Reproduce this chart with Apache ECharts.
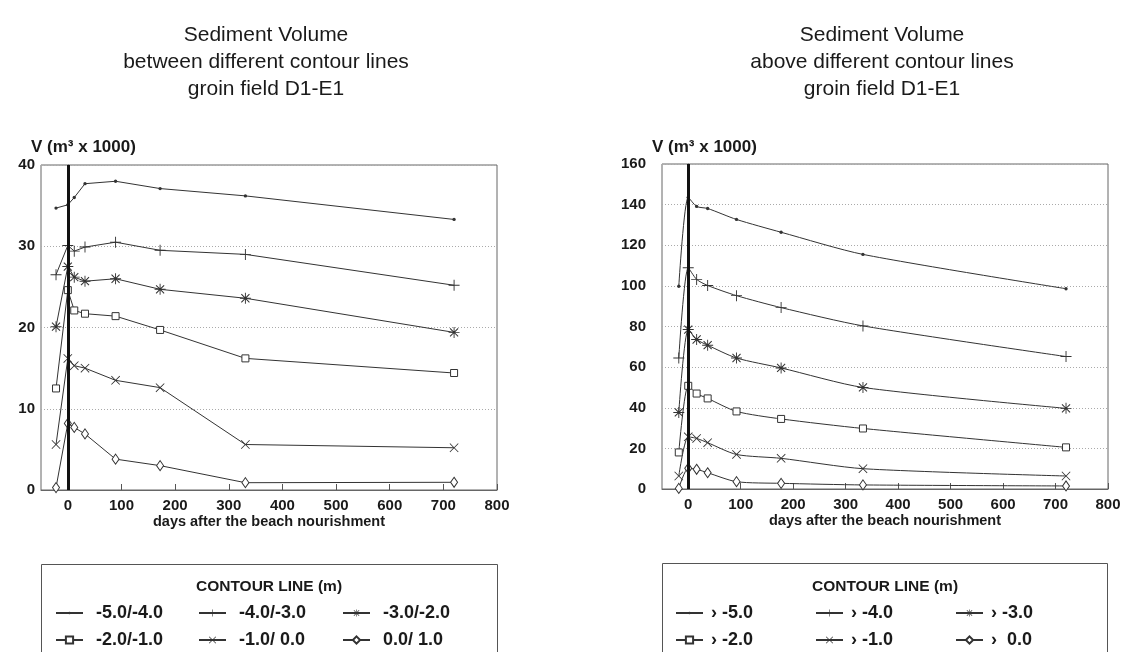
<!DOCTYPE html>
<html>
<head>
<meta charset="utf-8">
<script src="https://cdn.jsdelivr.net/npm/echarts@6/dist/echarts.min.js"></script>
<style>
html,body{margin:0;padding:0;background:#fff;}
#c{width:1127px;height:652px;}
</style>
</head>
<body>
<div id="c"></div>
<script>
// ---- data ----
const daysL = [-22, 0, 12, 32, 89, 172, 331, 720];
const daysR = [-18, 0, 16, 37, 92, 177, 333, 720];
const namesL = ['-5.0/-4.0', '-4.0/-3.0', '-3.0/-2.0', '-2.0/-1.0', '-1.0/ 0.0', '0.0/ 1.0'];
const namesR = ['\u203A -5.0', '\u203A -4.0', '\u203A -3.0', '\u203A -2.0', '\u203A -1.0', '\u203A  0.0'];
const L1 = [34.7, 35.1, 36.0, 37.7, 38.0, 37.1, 36.2, 33.3];
const L2 = [26.5, 30.1, 29.4, 29.9, 30.5, 29.5, 29.0, 25.2];
const L3 = [20.1, 27.5, 26.2, 25.7, 26.0, 24.7, 23.6, 19.4];
const L4 = [12.5, 24.6, 22.1, 21.7, 21.4, 19.7, 16.2, 14.4];
const L5 = [5.6, 16.2, 15.3, 15.0, 13.5, 12.6, 5.6, 5.2];
const L6 = [0.3, 8.2, 7.7, 6.9, 3.8, 3.0, 0.9, 0.95];
const R1 = [99.8, 143.6, 139.1, 138.1, 132.7, 126.4, 115.5, 98.6];
const R2 = [64.5, 108.9, 103.2, 100.2, 95.2, 89.3, 80.3, 65.2];
const R3 = [37.7, 78.5, 73.6, 70.8, 64.5, 59.6, 50.0, 39.7];
const R4 = [18.0, 50.8, 47.0, 44.6, 38.2, 34.5, 29.8, 20.5];
const R5 = [6.4, 25.7, 24.9, 22.8, 17.0, 15.1, 10.0, 6.4];
const R6 = [0.3, 10.2, 9.7, 8.0, 3.6, 2.8, 2.0, 1.5];
const xTicks = [0, 100, 200, 300, 400, 500, 600, 700, 800];
const titleL = 'Sediment Volume\nbetween different contour lines\ngroin field D1-E1';
const titleR = 'Sediment Volume\nabove different contour lines\ngroin field D1-E1';
const yName = 'V (m\u00B3 x 1000)';
const xName = 'days after the beach nourishment';
const legendTitle = 'CONTOUR LINE (m)';

// ---- styling ----
const FONT = 'Liberation Sans';
const INK = '#1a1a1a';
const LINE = '#333';
const DOT = 'path://M0,0M12,12M6,4A2,2,0,1,1,6,8A2,2,0,1,1,6,4Z';
const PLUS = 'path://M5.5,0H6.5V5.5H12V6.5H6.5V12H5.5V6.5H0V5.5H5.5Z';
const CROSS = 'path://M0,0.8L0.8,0L6,5.2L11.2,0L12,0.8L6.8,6L12,11.2L11.2,12L6,6.8L0.8,12L0,11.2L5.2,6Z';
const STAR = 'path://M5.5,0H6.5V5.5H12V6.5H6.5V12H5.5V6.5H0V5.5H5.5ZM1.2,2L2,1.2L6,5.2L10,1.2L10.8,2L6.8,6L10.8,10L10,10.8L6,6.8L2,10.8L1.2,10L5.2,6Z';
const markers = [
  {symbol: DOT, size: 10, hollow: false},
  {symbol: PLUS, size: 11, hollow: false},
  {symbol: STAR, size: 11, hollow: false},
  {symbol: 'rect', size: 7, hollow: true},
  {symbol: CROSS, size: 9, hollow: false},
  {symbol: 'diamond', size: [7, 10], hollow: true}
];

function mkSeries(names, days, vals, axisIdx, smooth) {
  return vals.map((v, i) => {
    const m = markers[i];
    const s = {
      name: names[i], type: 'line',
      xAxisIndex: axisIdx, yAxisIndex: axisIdx,
      data: days.map((d, j) => [d, v[j]]),
      symbol: m.symbol, symbolSize: m.size, showAllSymbol: true,
      smooth: smooth,
      lineStyle: {color: LINE, width: 1},
      itemStyle: m.hollow ? {color: '#fff', borderColor: LINE, borderWidth: 1} : {color: LINE, borderWidth: 0},
      emphasis: {disabled: true},
      animation: false
    };
    if (i === 0) {
      s.markLine = {
        silent: true, symbol: 'none', animation: false,
        label: {show: false},
        lineStyle: {color: '#111', width: 3, type: 'solid'},
        data: [{xAxis: 0}]
      };
    }
    return s;
  });
}

function xAxisCfg(idx) {
  return {
    gridIndex: idx, type: 'value', min: -50, max: 800,
    name: xName, nameLocation: 'middle', nameGap: 24,
    nameTextStyle: {fontFamily: FONT, fontWeight: 'bold', fontSize: 14.5, color: INK},
    axisLine: {show: true, lineStyle: {color: '#666'}},
    axisTick: {show: true, inside: true, length: 6, customValues: xTicks, lineStyle: {color: '#555'}},
    axisLabel: {customValues: xTicks, fontFamily: FONT, fontWeight: 'bold', fontSize: 15, color: INK, margin: 8},
    splitLine: {show: false}
  };
}
function yAxisCfg(idx, max, interval, margin) {
  return {
    gridIndex: idx, type: 'value', min: 0, max: max, interval: interval,
    axisLine: {show: true, lineStyle: {color: '#666'}},
    axisTick: {show: false},
    axisLabel: {fontFamily: FONT, fontWeight: 'bold', fontSize: 15, color: INK, margin: margin},
    splitLine: {show: true, lineStyle: {color: '#aaa', type: [1, 2], width: 1}}
  };
}
function legendCol(names, col, left, pad) {
  return {
    data: [names[col], names[col + 3]], left: left, top: 604, orient: 'vertical',
    itemWidth: 27, itemHeight: 9, itemGap: 9, padding: 0,
    selectedMode: false,
    textStyle: {fontFamily: FONT, fontWeight: 'bold', fontSize: 18, lineHeight: 18, color: INK, padding: [0, 0, 0, pad]}
  };
}

const titleStyle = {fontFamily: FONT, fontWeight: 'normal', fontSize: 21, color: INK, lineHeight: 27};
const smallStyle = {fontFamily: FONT, fontWeight: 'bold', fontSize: 17, color: INK};
const option = {
  backgroundColor: '#fff',
  animation: false,
  title: [
    {text: titleL, left: 266, top: 22, padding: 0, textAlign: 'center', textStyle: titleStyle},
    {text: titleR, left: 882, top: 22, padding: 0, textAlign: 'center', textStyle: titleStyle},
    {text: yName, left: 31, top: 139, padding: 0, textStyle: smallStyle},
    {text: yName, left: 652, top: 139, padding: 0, textStyle: smallStyle},
    {text: legendTitle, left: 269, top: 579, padding: 0, textAlign: 'center', textStyle: {fontFamily: FONT, fontWeight: 'bold', fontSize: 15.5, color: INK}},
    {text: legendTitle, left: 885, top: 579, padding: 0, textAlign: 'center', textStyle: {fontFamily: FONT, fontWeight: 'bold', fontSize: 15.5, color: INK}}
  ],
  graphic: [
    {type: 'rect', shape: {x: 41.5, y: 564.5, width: 456, height: 120}, style: {fill: 'none', stroke: '#555', lineWidth: 1}, silent: true},
    {type: 'rect', shape: {x: 662.5, y: 563.5, width: 445, height: 120}, style: {fill: 'none', stroke: '#555', lineWidth: 1}, silent: true}
  ],
  grid: [
    {left: 41, right: 630, top: 165, bottom: 162, show: true, borderColor: '#666', borderWidth: 1, backgroundColor: 'transparent'},
    {left: 662, right: 19, top: 164, bottom: 163, show: true, borderColor: '#666', borderWidth: 1, backgroundColor: 'transparent'}
  ],
  xAxis: [xAxisCfg(0), xAxisCfg(1)],
  yAxis: [yAxisCfg(0, 40, 10, 6), yAxisCfg(1, 160, 20, 16)],
  legend: [
    legendCol(namesL, 0, 55, 8), legendCol(namesL, 1, 198, 8), legendCol(namesL, 2, 342, 8),
    legendCol(namesR, 0, 675, 3), legendCol(namesR, 1, 815, 3), legendCol(namesR, 2, 955, 3)
  ],
  series: [].concat(
    mkSeries(namesL, daysL, [L1, L2, L3, L4, L5, L6], 0, false),
    mkSeries(namesR, daysR, [R1, R2, R3, R4, R5, R6], 1, 0.25)
  )
};

const chart = echarts.init(document.getElementById('c'), null, {renderer: 'canvas'});
chart.setOption(option);
</script>
</body>
</html>
